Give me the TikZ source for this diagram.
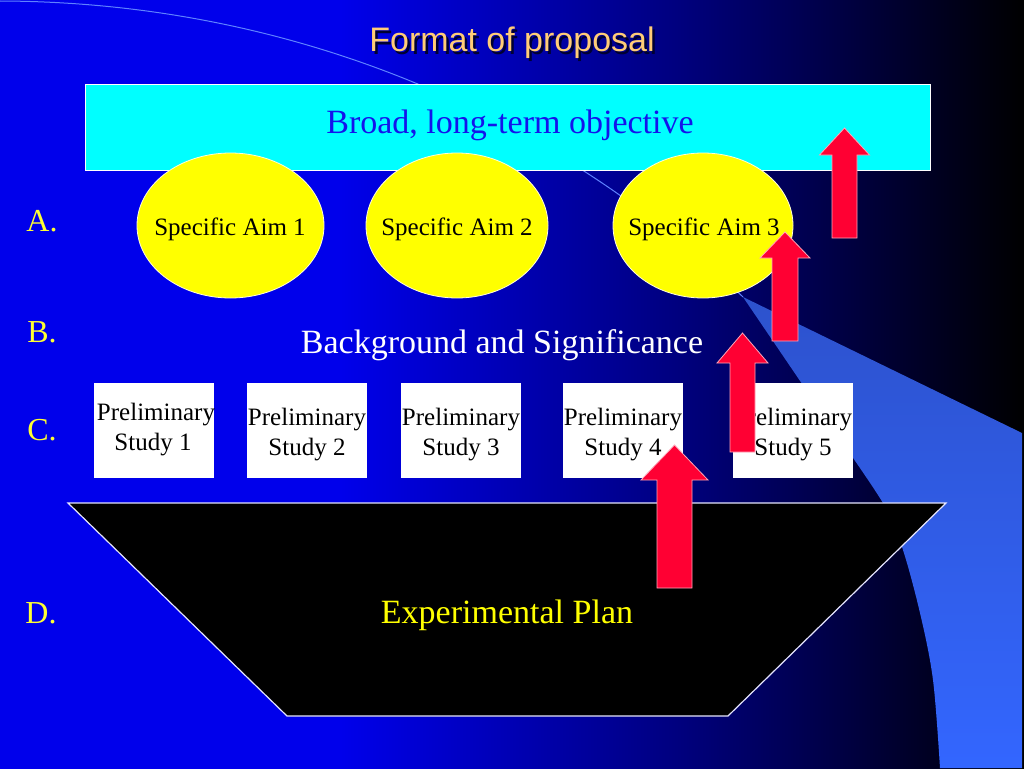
\documentclass[tikz,border=0pt]{standalone}
\usepackage{fontspec}
\setmainfont{Liberation Serif}
\newfontfamily\titlesans{Liberation Sans}
\usetikzlibrary{shapes.geometric}
\definecolor{bgblue}{RGB}{0,0,235}
\definecolor{bgmid}{RGB}{0,0,125}
\definecolor{bgend}{RGB}{0,0,0}
\definecolor{lb}{RGB}{51,102,255}
\definecolor{lbdark}{RGB}{45,82,205}
\definecolor{arcc}{RGB}{95,130,255}
\definecolor{cyanbox}{RGB}{0,255,255}
\definecolor{aimyellow}{RGB}{255,255,0}
\definecolor{labyellow}{RGB}{255,255,51}
\definecolor{titlec}{RGB}{255,204,119}
\definecolor{arrowred}{RGB}{255,0,51}
\definecolor{arrowedge}{RGB}{255,165,185}
\definecolor{objblue}{RGB}{20,20,235}
\pgfdeclarehorizontalshading{bgshade}{100bp}{color(0bp)=(bgblue); color(25bp)=(bgblue); color(41.6bp)=(bgblue); color(58.3bp)=(bgmid); color(75bp)=(bgend); color(100bp)=(bgend)}
\newcommand\upblock[6]{% cx, tip y, head y, head half width, shaft half width, bottom y
  \filldraw[redblock] (#1,#2) -- ({#1+#4},#3) -- ({#1+#5},#3) -- ({#1+#5},#6)
     -- ({#1-#5},#6) -- ({#1-#5},#3) -- ({#1-#4},#3) -- cycle;}
\tikzset{
  every node/.style={inner sep=0pt, outer sep=0pt},
  titletext/.style={font=\titlesans\fontsize{34}{40}\selectfont, anchor=base},
  bigtext/.style={font=\fontsize{34}{40}\selectfont, anchor=base},
  lbl/.style={font=\fontsize{32}{38}\selectfont, text=labyellow, anchor=base},
  aimshape/.style={ellipse, fill=aimyellow, draw=white!85!yellow, line width=0.8pt,
     minimum height=145pt},
  aimtext/.style={font=\fontsize{25}{30}\selectfont, anchor=base, text=black},
  studybox/.style={rectangle, fill=white, minimum width=120pt, minimum height=95pt},
  studytext/.style={font=\fontsize{25}{30}\selectfont, anchor=base, text=black},
  redblock/.style={fill=arrowred, draw=arrowedge, line width=0.8pt, line join=miter},
  arcline/.style={draw=arcc, line width=1pt},
}
\begin{document}
\begin{tikzpicture}[x=1pt, y=-1pt]
\useasboundingbox (0,0) rectangle (1024,768);
% background
\shade[shading=bgshade] (0,0) rectangle (1024,768);
% sweeping curve and light region
\draw[arcline] (0,1) .. controls (300,2) and (560,120) .. (743,297);
\shade[top color=lbdark, middle color=lb, bottom color=lb]
  plot[smooth, tension=0.55] coordinates {(743,297) (813,400) (883,503) (902,547) (920,613) (933,680) (940,768)}
  -- (1022,768) -- (1022,433) -- cycle;
% title
\node[titletext, text=black!80!blue] (titleshadow) at (514.5,54.5) {Format of proposal};
\node[titletext, text=titlec] (title) at (512,52) {Format of proposal};
% objective bar
\node[rectangle, fill=cyanbox, draw=white, line width=0.8pt, minimum width=845pt, minimum height=86pt] (objective) at (507.5,127) {};
\node[bigtext, text=objblue] (objtext) at (510,133) {Broad, long-term objective};
% aims
\node[aimshape, minimum width=187pt] (aim1) at (230.5,225.5) {};
\node[aimshape, minimum width=182pt] (aim2) at (457,225.5) {};
\node[aimshape, minimum width=180pt] (aim3) at (703,225.5) {};
\node[aimtext] (aim1t) at (230,235) {Specific Aim 1};
\node[aimtext] (aim2t) at (457,235) {Specific Aim 2};
\node[aimtext] (aim3t) at (704,235) {Specific Aim 3};
% labels
\node[lbl] (la) at (42,231) {A.};
\node[lbl] (lb) at (42,342) {B.};
\node[lbl] (lc) at (42,440) {C.};
\node[lbl] (ld) at (41,623) {D.};
% background text
\node[bigtext, text=white] (bgsig) at (502,353) {Background and Significance};
% study boxes
\node[studybox] (s1) at (153.5,430.5) {};
\node[studybox] (s2) at (307,430.5) {};
\node[studybox] (s3) at (461,430.5) {};
\node[studybox] (s4) at (623,430.5) {};
\node[studybox] (s5) at (793,430.5) {};
\node[studytext] (s1a) at (156,420) {Preliminary};
\node[studytext] (s1b) at (153,450) {Study 1};
\node[studytext] (s2a) at (307,425) {Preliminary};
\node[studytext] (s2b) at (307,455) {Study 2};
\node[studytext] (s3a) at (461,425) {Preliminary};
\node[studytext] (s3b) at (461,455) {Study 3};
\node[studytext] (s4a) at (623,425) {Preliminary};
\node[studytext] (s4b) at (623,455) {Study 4};
\node[studytext] (s5a) at (793,425) {Preliminary};
\node[studytext] (s5b) at (793,455) {Study 5};
% experimental plan
\filldraw[fill=black, draw=white!90!blue, line width=1.2pt] (68,503) -- (946,503) -- (728,716) -- (287,716) -- cycle;
\node[bigtext, text=aimyellow] (plan) at (507,623) {Experimental Plan};
% red arrows
\upblock{844.5}{128}{155}{25}{12.5}{238}
\upblock{785}{232}{258}{25}{13}{341}
\upblock{742.5}{333}{363}{25.5}{12.5}{452}
\upblock{674.5}{445}{480}{33.5}{17.5}{588}
\end{tikzpicture}
\end{document}
